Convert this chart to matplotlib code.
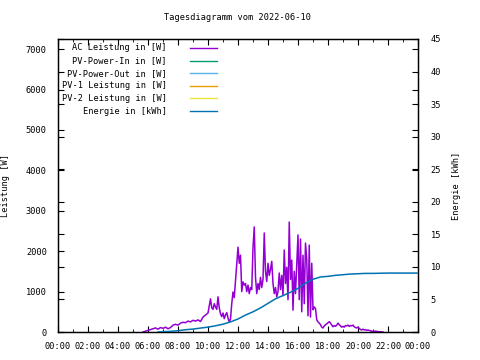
import matplotlib
matplotlib.use("Agg")
import matplotlib.pyplot as plt
from matplotlib.lines import Line2D
from matplotlib.ticker import MultipleLocator, FuncFormatter

title = "Tagesdiagramm vom 2022-06-10"

ac_times = ["05:40","05:50","06:00","06:10","06:20","06:30","06:40","06:50","07:00","07:10",
            "07:20","07:30","07:40","07:50","08:00","08:10","08:20","08:30","08:40","08:50",
            "09:00","09:10","09:20","09:30","09:40","09:50",
            "10:00","10:05","10:10","10:15","10:20","10:25","10:30","10:35","10:40","10:45",
            "10:50","10:55","11:00","11:05","11:10","11:15","11:20","11:25","11:30","11:35",
            "11:40","11:45","11:50","11:55","12:00","12:05","12:10","12:15","12:20","12:25",
            "12:30","12:35","12:40","12:45","12:50","12:55","13:00","13:05","13:10","13:15",
            "13:20","13:25","13:30","13:35","13:40","13:45","13:50","13:55","14:00","14:05",
            "14:10","14:15","14:20","14:25","14:30","14:35","14:40","14:45","14:50","14:55",
            "15:00","15:05","15:10","15:15","15:20","15:25","15:30","15:35","15:40","15:45",
            "15:50","15:55","16:00","16:05","16:10","16:15","16:20","16:25","16:30","16:35",
            "16:40","16:45","16:50","16:55","17:00","17:05","17:10","17:15","17:20","17:25",
            "17:30","17:35","17:40","17:45","17:50","17:55","18:00","18:05","18:10","18:15",
            "18:20","18:25","18:30","18:35","18:40","18:45","18:50","18:55","19:00","19:05",
            "19:10","19:15","19:20","19:25","19:30","19:35","19:40","19:45","19:50","19:55",
            "20:00","20:05","20:10","20:15","20:20","20:25","20:30","20:35","20:40","20:45",
            "20:50","20:55","21:00","21:10","21:20","21:30","21:40"]
ac_watt = [0,20,40,60,80,100,70,110,90,120,
           80,110,170,190,170,220,240,230,270,250,
           290,270,300,260,370,420,
           470,650,820,600,560,700,620,560,870,600,
           450,380,470,330,420,480,350,250,320,700,
           990,850,1260,1650,2100,1700,1900,1000,1240,1160,
           1200,1000,1160,950,1100,1050,2080,2600,1350,950,
           1200,1050,1350,1100,1300,2450,1500,1250,1700,1400,
           1550,1750,1200,950,1100,870,1000,1460,1050,1400,
           900,2030,1200,1600,800,2720,1300,1780,540,1500,
           950,1700,2400,800,2300,500,1900,700,2200,1800,
           400,2150,370,1700,550,620,580,300,250,220,
           180,120,100,150,180,200,230,255,220,170,
           130,160,140,170,220,180,150,120,140,120,
           160,150,170,140,160,150,170,130,110,100,
           120,90,60,50,70,50,60,40,50,40,
           30,20,15,20,10,5,0]

en_times = ["06:40","07:00","07:30","08:00","08:30","09:00","09:30","10:00","10:30","11:00",
            "11:30","12:00","12:30","13:00","13:30","14:00","14:30","15:00","15:30","16:00",
            "16:30","17:00","17:30","18:00","18:30","19:00","19:30","20:00","20:30","21:00",
            "22:00","24:00"]
en_kwh = [0,0.05,0.1,0.2,0.35,0.45,0.6,0.75,0.95,1.2,
          1.55,2.0,2.6,3.1,3.7,4.4,5.1,5.6,6.1,6.7,
          7.5,8.1,8.45,8.55,8.7,8.8,8.9,8.95,9.0,9.0,
          9.05,9.05]

legend_labels = ["AC Leistung in [W]", "PV-Power-In in [W]", "PV-Power-Out in [W]",
                 "PV-1 Leistung in [W]", "PV-2 Leistung in [W]", "Energie in [kWh]"]
legend_colors = ["#9400D3", "#009E73", "#56B4E9", "#E69F00", "#F0E442", "#0072B2"]


def to_h(s):
    h, m = s.split(":")
    return int(h) + int(m) / 60.0


FONT = "DejaVu Sans Mono"
FS = 6.2
plt.rcParams["font.family"] = FONT
plt.rcParams["font.size"] = FS

fig = plt.figure(figsize=(4.8, 3.6), dpi=100)
ax = fig.add_axes([58/480, 28/360, 360/480, 293/360])
ax2 = ax.twinx()

ax.plot([to_h(t) for t in ac_times], ac_watt, color=legend_colors[0], lw=1.1, zorder=2)
ax2.plot([to_h(t) for t in en_times], en_kwh, color=legend_colors[5], lw=1.1, zorder=3)

ax.set_xlim(0, 24)
ax.set_ylim(0, 7250)
ax2.set_ylim(0, 45)
ax.xaxis.set_major_locator(MultipleLocator(2))
ax.xaxis.set_minor_locator(MultipleLocator(1))
ax.xaxis.set_major_formatter(FuncFormatter(lambda v, p: "%02d:00" % (int(round(v)) % 24)))
ax.yaxis.set_major_locator(MultipleLocator(1000))
ax2.yaxis.set_major_locator(MultipleLocator(5))

ax.tick_params(axis="x", which="both", direction="in", top=True, pad=7)
ax.tick_params(axis="x", which="major", length=4)
ax.tick_params(axis="x", which="minor", length=2.5)
ax.tick_params(axis="y", direction="in", length=4, right=True, pad=8)
ax2.tick_params(axis="y", direction="in", length=4, left=True, pad=9)

for a in (ax, ax2):
    for s in a.spines.values():
        s.set_linewidth(0.9)

ax.set_ylabel("Leistung [W]", fontsize=FS)
ax.yaxis.set_label_coords((10 - 58) / 360, 0.5)
ax2.set_ylabel("Energie [kWh]", fontsize=FS)
ax2.yaxis.set_label_coords((452 - 58) / 360, 0.5)

fig.text(238/480, 1 - 18/360, title, ha="center", va="center", fontsize=FS)

# key (gnuplot-style, text right aligned, sample line to the right)
y0 = 48
dy = 12.6
for i, (lab, col) in enumerate(zip(legend_labels, legend_colors)):
    yp = 1 - (y0 + i * dy) / 360
    fig.text(167/480, yp, lab, ha="right", va="center", fontsize=FS)
    fig.add_artist(Line2D([190/480, 217/480], [yp, yp], color=col, lw=1.0,
                          transform=fig.transFigure))

fig.savefig("out.png", dpi=100)
